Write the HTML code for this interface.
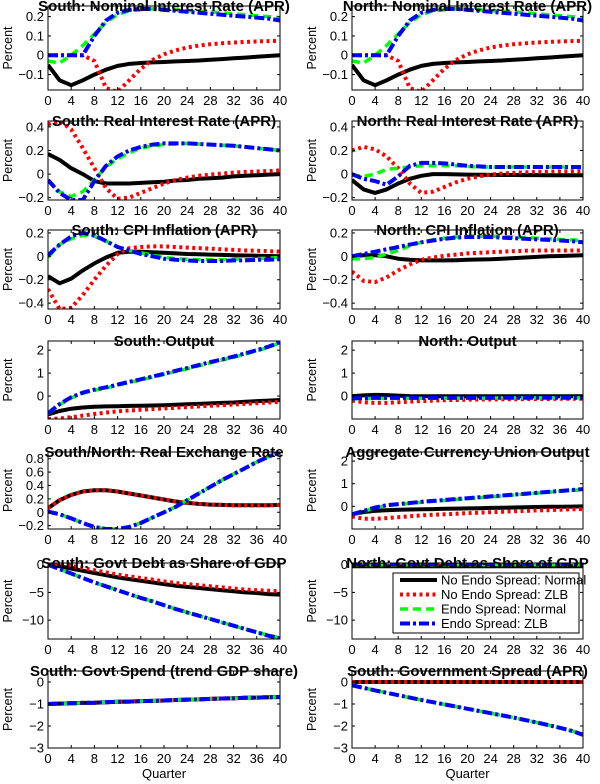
<!DOCTYPE html>
<html><head><meta charset="utf-8"><style>
html,body{margin:0;padding:0;background:#fff}
svg{display:block}
text{font-family:"Liberation Sans",sans-serif;fill:#000}
.t{font-weight:bold;font-size:15px}
.k{font-size:13px}
.yl{font-size:12.5px}
</style></head><body>
<svg id="c" width="600" height="784" viewBox="0 0 600 784"></svg>
<script>
const quarters=[0,2,4,6,8,10,12,14,16,18,20,22,24,26,28,30,32,34,36,38,40];
const xTicks=[0,4,8,12,16,20,24,28,32,36,40];
const seriesNames=["No Endo Spread: Normal","No Endo Spread: ZLB","Endo Spread: Normal","Endo Spread: ZLB"];
// South nominal
const sNomBlack=[-0.05,-0.13,-0.155,-0.13,-0.1,-0.075,-0.055,-0.045,-0.04,-0.037,-0.035,-0.032,-0.03,-0.027,-0.023,-0.02,-0.016,-0.012,-0.008,-0.004,0];
const sNomRed=[0,0,0,0,-0.03,-0.17,-0.19,-0.13,-0.07,-0.025,0.005,0.025,0.04,0.05,0.057,0.062,0.066,0.069,0.071,0.073,0.075];
const sNomGreen=[-0.03,-0.04,0,0.05,0.11,0.17,0.21,0.23,0.235,0.24,0.24,0.235,0.23,0.228,0.225,0.22,0.215,0.21,0.205,0.2,0.195];
const sNomBlue=[0,0,0,0,0.1,0.18,0.22,0.235,0.24,0.24,0.235,0.23,0.225,0.22,0.215,0.21,0.205,0.2,0.195,0.19,0.18];
const nNomBlack=[-0.05,-0.13,-0.155,-0.13,-0.1,-0.075,-0.055,-0.045,-0.04,-0.037,-0.035,-0.032,-0.03,-0.027,-0.023,-0.02,-0.016,-0.012,-0.008,-0.004,0];
const nNomRed=[0,0,0,0,-0.03,-0.17,-0.19,-0.13,-0.07,-0.025,0.005,0.025,0.04,0.05,0.057,0.062,0.066,0.069,0.071,0.073,0.075];
const nNomGreen=[-0.03,-0.04,0,0.05,0.11,0.17,0.21,0.23,0.235,0.24,0.24,0.235,0.23,0.228,0.225,0.22,0.215,0.21,0.205,0.2,0.195];
const nNomBlue=[0,0,0,0,0.1,0.18,0.22,0.235,0.24,0.24,0.235,0.23,0.225,0.22,0.215,0.21,0.205,0.2,0.195,0.19,0.18];
// Real rate
const sRealBlack=[0.17,0.12,0.05,0,-0.06,-0.08,-0.08,-0.08,-0.075,-0.07,-0.065,-0.055,-0.05,-0.04,-0.035,-0.03,-0.02,-0.015,-0.01,-0.005,0];
const sRealRed=[0.42,0.45,0.38,0.22,0.05,-0.12,-0.21,-0.2,-0.16,-0.12,-0.08,-0.05,-0.03,-0.015,-0.005,0.005,0.012,0.018,0.022,0.026,0.03];
const sRealGreen=[-0.05,-0.15,-0.19,-0.15,-0.05,0.06,0.13,0.18,0.22,0.24,0.25,0.255,0.26,0.255,0.25,0.245,0.24,0.23,0.22,0.21,0.2];
const sRealBlue=[-0.05,-0.16,-0.22,-0.22,-0.06,0.07,0.15,0.2,0.23,0.25,0.26,0.26,0.26,0.255,0.25,0.245,0.24,0.23,0.22,0.21,0.2];
const nRealBlack=[-0.05,-0.13,-0.16,-0.13,-0.08,-0.04,-0.015,0,0,-0.003,-0.005,-0.006,-0.007,-0.008,-0.008,-0.009,-0.009,-0.01,-0.01,-0.01,-0.01];
const nRealRed=[0.2,0.23,0.21,0.15,0.05,-0.08,-0.16,-0.15,-0.11,-0.07,-0.04,-0.02,-0.005,0.005,0.01,0.015,0.018,0.02,0.022,0.023,0.025];
const nRealGreen=[-0.01,-0.02,0,0.04,0.05,0.06,0.07,0.07,0.07,0.07,0.065,0.06,0.06,0.06,0.06,0.06,0.06,0.06,0.06,0.06,0.06];
const nRealBlue=[0,-0.04,-0.06,-0.09,-0.02,0.07,0.095,0.095,0.09,0.08,0.07,0.065,0.06,0.06,0.06,0.06,0.06,0.06,0.06,0.06,0.06];
// CPI
const sCpiBlack=[-0.17,-0.23,-0.19,-0.12,-0.06,-0.01,0.03,0.04,0.04,0.035,0.03,0.025,0.02,0.018,0.015,0.012,0.01,0.007,0.005,0.003,0];
const sCpiRed=[-0.28,-0.45,-0.44,-0.33,-0.2,-0.08,0.02,0.07,0.08,0.085,0.085,0.08,0.075,0.07,0.065,0.06,0.055,0.05,0.048,0.045,0.04];
const sCpiGreen=[-0.01,0.1,0.15,0.18,0.17,0.13,0.08,0.05,0.03,0.01,-0.01,-0.02,-0.025,-0.03,-0.03,-0.03,-0.025,-0.02,-0.02,-0.015,-0.01];
const sCpiBlue=[0.01,0.1,0.17,0.2,0.18,0.13,0.08,0.05,0.02,0,-0.02,-0.03,-0.035,-0.04,-0.04,-0.04,-0.035,-0.035,-0.03,-0.03,-0.025];
const nCpiBlack=[0,0.01,0.01,0,-0.02,-0.03,-0.035,-0.035,-0.035,-0.033,-0.03,-0.027,-0.025,-0.02,-0.015,-0.01,-0.005,0,0.003,0.006,0.01];
const nCpiRed=[-0.13,-0.21,-0.22,-0.18,-0.12,-0.07,-0.03,-0.01,0.005,0.015,0.025,0.03,0.035,0.04,0.045,0.048,0.05,0.05,0.05,0.05,0.05];
const nCpiGreen=[-0.02,-0.02,-0.01,0.02,0.05,0.09,0.12,0.14,0.155,0.165,0.17,0.172,0.172,0.17,0.165,0.16,0.155,0.15,0.145,0.14,0.135];
const nCpiBlue=[0,0.02,0.04,0.06,0.08,0.1,0.12,0.135,0.15,0.16,0.165,0.165,0.165,0.16,0.155,0.15,0.145,0.14,0.135,0.13,0.12];
// Output
const sOutBlack=[-0.8,-0.65,-0.55,-0.5,-0.47,-0.45,-0.44,-0.43,-0.42,-0.41,-0.4,-0.38,-0.36,-0.34,-0.32,-0.3,-0.28,-0.25,-0.22,-0.2,-0.17];
const sOutRed=[-1,-0.98,-0.92,-0.85,-0.78,-0.72,-0.67,-0.63,-0.6,-0.57,-0.54,-0.51,-0.48,-0.45,-0.42,-0.4,-0.37,-0.34,-0.31,-0.28,-0.25];
const sOutGreen=[-0.77,-0.38,-0.08,0.12,0.25,0.35,0.47,0.59,0.7,0.82,0.94,1.07,1.19,1.32,1.45,1.57,1.69,1.83,1.97,2.12,2.32];
const sOutBlue=[-0.75,-0.35,-0.05,0.15,0.28,0.38,0.5,0.62,0.73,0.85,0.97,1.1,1.22,1.35,1.48,1.6,1.72,1.86,2,2.15,2.35];
const nOutBlack=[0,0.03,0.05,0.04,0.02,0,-0.01,-0.01,-0.01,-0.01,-0.01,-0.01,-0.01,-0.01,-0.01,-0.01,-0.01,-0.01,-0.01,-0.01,-0.01];
const nOutRed=[-0.2,-0.27,-0.3,-0.3,-0.27,-0.24,-0.22,-0.2,-0.18,-0.17,-0.16,-0.15,-0.15,-0.14,-0.14,-0.13,-0.13,-0.13,-0.12,-0.12,-0.12];
const nOutGreen=[-0.12,-0.11,-0.1,-0.1,-0.1,-0.1,-0.1,-0.1,-0.09,-0.09,-0.09,-0.09,-0.09,-0.08,-0.08,-0.08,-0.08,-0.08,-0.08,-0.08,-0.08];
const nOutBlue=[-0.1,-0.09,-0.08,-0.08,-0.08,-0.08,-0.08,-0.08,-0.08,-0.08,-0.08,-0.08,-0.08,-0.07,-0.07,-0.07,-0.07,-0.07,-0.07,-0.07,-0.07];
// RER
const rerBlack=[0.06,0.18,0.26,0.31,0.33,0.33,0.31,0.28,0.25,0.22,0.19,0.16,0.14,0.125,0.115,0.11,0.105,0.105,0.105,0.105,0.11];
const rerRed=[0.06,0.18,0.26,0.31,0.33,0.33,0.31,0.28,0.25,0.22,0.19,0.16,0.14,0.125,0.115,0.11,0.105,0.105,0.105,0.105,0.11];
const rerGreen=[0.01,-0.03,-0.09,-0.16,-0.22,-0.25,-0.25,-0.22,-0.16,-0.08,0,0.08,0.18,0.28,0.38,0.48,0.57,0.66,0.75,0.83,0.89];
const rerBlue=[0.01,-0.03,-0.09,-0.16,-0.22,-0.25,-0.25,-0.22,-0.16,-0.08,0,0.08,0.18,0.28,0.38,0.48,0.57,0.66,0.75,0.83,0.9];
// Aggregate output
const aggBlack=[-0.35,-0.25,-0.2,-0.17,-0.15,-0.14,-0.13,-0.12,-0.11,-0.1,-0.09,-0.08,-0.07,-0.06,-0.05,-0.04,-0.03,-0.02,-0.015,-0.01,0];
const aggRed=[-0.45,-0.55,-0.55,-0.52,-0.48,-0.44,-0.4,-0.37,-0.35,-0.33,-0.3,-0.28,-0.26,-0.24,-0.22,-0.2,-0.18,-0.17,-0.15,-0.13,-0.12];
const aggGreen=[-0.37,-0.22,-0.07,0.03,0.08,0.13,0.18,0.22,0.26,0.3,0.34,0.38,0.42,0.46,0.5,0.54,0.58,0.62,0.66,0.7,0.74];
const aggBlue=[-0.35,-0.2,-0.05,0.05,0.1,0.15,0.2,0.24,0.28,0.32,0.36,0.4,0.44,0.48,0.52,0.56,0.6,0.64,0.68,0.72,0.76];
// Debt
const sDebtBlack=[0,-0.3,-0.7,-1.1,-1.5,-1.9,-2.3,-2.6,-2.9,-3.2,-3.5,-3.8,-4,-4.2,-4.4,-4.6,-4.8,-5,-5.1,-5.3,-5.4];
const sDebtRed=[0.2,0.1,-0.2,-0.6,-1,-1.4,-1.8,-2.1,-2.4,-2.7,-3,-3.3,-3.5,-3.7,-3.9,-4.1,-4.3,-4.5,-4.6,-4.7,-4.8];
const sDebtGreen=[0,-0.8,-1.6,-2.4,-3.2,-3.9,-4.6,-5.3,-6,-6.6,-7.3,-8,-8.6,-9.2,-9.8,-10.4,-11,-11.6,-12.2,-12.7,-13.2];
const sDebtBlue=[0,-0.8,-1.6,-2.4,-3.2,-3.9,-4.6,-5.3,-6,-6.6,-7.3,-8,-8.6,-9.2,-9.8,-10.4,-11,-11.6,-12.2,-12.8,-13.3];
const nDebtBlack=[-0.3,-0.3,-0.3,-0.3,-0.3,-0.3,-0.3,-0.3,-0.3,-0.3,-0.3,-0.3,-0.3,-0.3,-0.3,-0.3,-0.3,-0.3,-0.3,-0.3,-0.3];
const nDebtRed=[0.2,0.2,0.2,0.2,0.2,0.2,0.2,0.2,0.2,0.2,0.2,0.2,0.2,0.2,0.2,0.2,0.2,0.2,0.2,0.2,0.2];
const nDebtGreen=[0,0,0,0,0,0,0,0,0,0,0,0,0,0,0,0,0,0,0,0,0];
const nDebtBlue=[0.1,0.1,0.1,0.1,0.1,0.1,0.1,0.1,0.1,0.1,0.1,0.1,0.1,0.1,0.1,0.1,0.1,0.1,0.1,0.1,0.1];
// Govt spend
const gsBlack=[-1,-0.98,-0.97,-0.95,-0.94,-0.92,-0.9,-0.89,-0.87,-0.86,-0.84,-0.82,-0.8,-0.79,-0.77,-0.75,-0.74,-0.72,-0.71,-0.69,-0.68];
const gsRed=[-1,-0.98,-0.97,-0.95,-0.94,-0.92,-0.9,-0.89,-0.87,-0.86,-0.84,-0.82,-0.8,-0.79,-0.77,-0.75,-0.74,-0.72,-0.71,-0.69,-0.68];
const gsGreen=[-1,-0.98,-0.97,-0.95,-0.94,-0.92,-0.9,-0.89,-0.87,-0.86,-0.84,-0.82,-0.8,-0.79,-0.77,-0.75,-0.74,-0.72,-0.71,-0.69,-0.68];
const gsBlue=[-1,-0.98,-0.97,-0.95,-0.94,-0.92,-0.9,-0.89,-0.87,-0.86,-0.84,-0.82,-0.8,-0.79,-0.77,-0.75,-0.74,-0.72,-0.71,-0.69,-0.68];
// Govt spread
const spBlack=[0,0,0,0,0,0,0,0,0,0,0,0,0,0,0,0,0,0,0,0,0];
const spRed=[0,0,0,0,0,0,0,0,0,0,0,0,0,0,0,0,0,0,0,0,0];
const spGreen=[-0.15,-0.27,-0.38,-0.49,-0.6,-0.71,-0.82,-0.92,-1.02,-1.12,-1.22,-1.32,-1.42,-1.52,-1.62,-1.73,-1.84,-1.96,-2.08,-2.22,-2.38];
const spBlue=[-0.15,-0.27,-0.38,-0.49,-0.6,-0.71,-0.82,-0.92,-1.02,-1.12,-1.22,-1.32,-1.42,-1.52,-1.62,-1.73,-1.84,-1.96,-2.08,-2.22,-2.4];

const rows=[[6,90],[121,200],[230,309],[341,419],[452,529],[563,639],[671,748]];
const cols=[[48,280],[352,583]];
const panels=[
 {n:"south-nominal-rate",t:"South: Nominal Interest Rate (APR)",r:0,c:0,y:[-0.18,0.255],tk:[-0.1,0,0.1,0.2],s:[sNomBlack,sNomRed,sNomGreen,sNomBlue]},
 {n:"north-nominal-rate",t:"North: Nominal Interest Rate (APR)",r:0,c:1,y:[-0.18,0.255],tk:[-0.1,0,0.1,0.2],s:[nNomBlack,nNomRed,nNomGreen,nNomBlue]},
 {n:"south-real-rate",t:"South: Real Interest Rate (APR)",r:1,c:0,y:[-0.22,0.45],tk:[-0.2,0,0.2,0.4],s:[sRealBlack,sRealRed,sRealGreen,sRealBlue]},
 {n:"north-real-rate",t:"North: Real Interest Rate (APR)",r:1,c:1,y:[-0.22,0.45],tk:[-0.2,0,0.2,0.4],s:[nRealBlack,nRealRed,nRealGreen,nRealBlue]},
 {n:"south-cpi",t:"South: CPI Inflation (APR)",r:2,c:0,y:[-0.45,0.225],tk:[-0.4,-0.2,0,0.2],s:[sCpiBlack,sCpiRed,sCpiGreen,sCpiBlue]},
 {n:"north-cpi",t:"North: CPI Inflation (APR)",r:2,c:1,y:[-0.45,0.225],tk:[-0.4,-0.2,0,0.2],s:[nCpiBlack,nCpiRed,nCpiGreen,nCpiBlue]},
 {n:"south-output",t:"South: Output",r:3,c:0,y:[-1,2.4],tk:[0,1,2],s:[sOutBlack,sOutRed,sOutGreen,sOutBlue]},
 {n:"north-output",t:"North: Output",r:3,c:1,y:[-1,2.4],tk:[0,1,2],s:[nOutBlack,nOutRed,nOutGreen,nOutBlue]},
 {n:"real-exchange-rate",t:"South/North: Real Exchange Rate",r:4,c:0,y:[-0.25,0.9],tk:[-0.2,0,0.2,0.4,0.6,0.8],s:[rerBlack,rerRed,rerGreen,rerBlue]},
 {n:"aggregate-output",t:"Aggregate Currency Union Output",r:4,c:1,y:[-1,2.4],tk:[0,1,2],s:[aggBlack,aggRed,aggGreen,aggBlue]},
 {n:"south-debt",t:"South: Govt Debt as Share of GDP",r:5,c:0,y:[-13.4,0.3],tk:[-10,-5,0],s:[sDebtBlack,sDebtRed,sDebtGreen,sDebtBlue]},
 {n:"north-debt",t:"North: Govt Debt as Share of GDP",r:5,c:1,y:[-13.4,0.3],tk:[-10,-5,0],s:[nDebtBlack,nDebtRed,nDebtGreen,nDebtBlue],legend:true},
 {n:"south-govt-spend",t:"South: Govt Spend (trend GDP share)",r:6,c:0,y:[-3,0.5],tk:[-3,-2,-1,0],s:[gsBlack,gsRed,gsGreen,gsBlue],xl:true},
 {n:"south-govt-spread",t:"South: Government Spread (APR)",r:6,c:1,y:[-3,0.5],tk:[-3,-2,-1,0],s:[spBlack,spRed,spGreen,spBlue],xl:true}
];
const styles=[
 {col:"#000",w:4,d:""},
 {col:"#f00",w:4,d:"3 3.5"},
 {col:"#0f0",w:3.5,d:"8 5"},
 {col:"#00f",w:4,d:"10 3 3 3"}
];
const svg=document.getElementById('c');
const NS="http://www.w3.org/2000/svg";
function mk(tag,at,parent){const e=document.createElementNS(NS,tag);for(const k in at)e.setAttribute(k,at[k]);(parent||svg).appendChild(e);return e;}
function fmt(v){return (v<0?"\u2212":"")+String(Math.abs(v));}
panels.forEach((p,pi)=>{
 const [x0,x1]=cols[p.c],[y0,y1]=rows[p.r];
 const sx=q=>x0+(q/40)*(x1-x0);
 const sy=v=>y1-(v-p.y[0])/(p.y[1]-p.y[0])*(y1-y0);
 const g=mk('g',{});
 
 
 const cp=mk('clipPath',{id:'cp'+pi},g);
 mk('rect',{x:x0,y:y0,width:x1-x0,height:y1-y0},cp);
 const sg=mk('g',{'clip-path':'url(#cp'+pi+')'},g);
 p.s.forEach((arr,si)=>{
  const st=styles[si];
  const pts=arr.map((v,i)=>sx(quarters[i]).toFixed(1)+','+sy(v).toFixed(1)).join(' ');
  const pl=mk('polyline',{points:pts,fill:'none',stroke:st.col,'stroke-width':st.w,'stroke-dasharray':st.d,'stroke-linejoin':'round'},sg);
  
  
 });
 mk('rect',{x:x0,y:y0,width:x1-x0,height:y1-y0,fill:'none',stroke:'#000','stroke-width':1},g);
 xTicks.forEach(q=>{
  const x=sx(q);
  mk('line',{x1:x,x2:x,y1:y1,y2:y1-3,stroke:'#000','stroke-width':1},g);
  mk('line',{x1:x,x2:x,y1:y0,y2:y0+3,stroke:'#000','stroke-width':1},g);
  const t=mk('text',{x:x,y:y1+15,'text-anchor':'middle',class:'k'},g);t.textContent=q;
  
  
 });
 p.tk.forEach(v=>{
  const y=sy(v);
  mk('line',{x1:x0,x2:x0+3,y1:y,y2:y,stroke:'#000','stroke-width':1},g);
  mk('line',{x1:x1,x2:x1-3,y1:y,y2:y,stroke:'#000','stroke-width':1},g);
  const t=mk('text',{x:x0-4,y:y+4.5,'text-anchor':'end',class:'k'},g);t.textContent=fmt(v);
  
  
 });
 const yl=mk('text',{x:0,y:0,'text-anchor':'middle',class:'yl',transform:'translate('+(x0-36)+','+((y0+y1)/2)+') rotate(-90)'},g);
 yl.textContent='Percent';
 
 
 const tt=mk('text',{x:(x0+x1)/2,y:y0+5,'text-anchor':'middle',class:'t'},g);
 tt.textContent=p.t;
 
 
 if(p.xl){
  const xt=mk('text',{x:(x0+x1)/2,y:y1+30,'text-anchor':'middle',class:'k'},g);
  xt.textContent='Quarter';
  
  
 }
 if(p.legend){
  const lg=mk('g',{});
  
  
  mk('rect',{x:393,y:573,width:186,height:60,fill:'#fff',stroke:'#000','stroke-width':1},lg);
  seriesNames.forEach((nm,i)=>{
   const yy=580+i*14.5, st=styles[i];
   const e=mk('g',{},lg);
   
   
   mk('line',{x1:400,x2:437,y1:yy,y2:yy,stroke:st.col,'stroke-width':st.w,'stroke-dasharray':st.d},e);
   const t=mk('text',{x:441,y:yy+4.5,class:'k'},e);t.textContent=nm;
  });
 }
});
</script>
</body></html>
